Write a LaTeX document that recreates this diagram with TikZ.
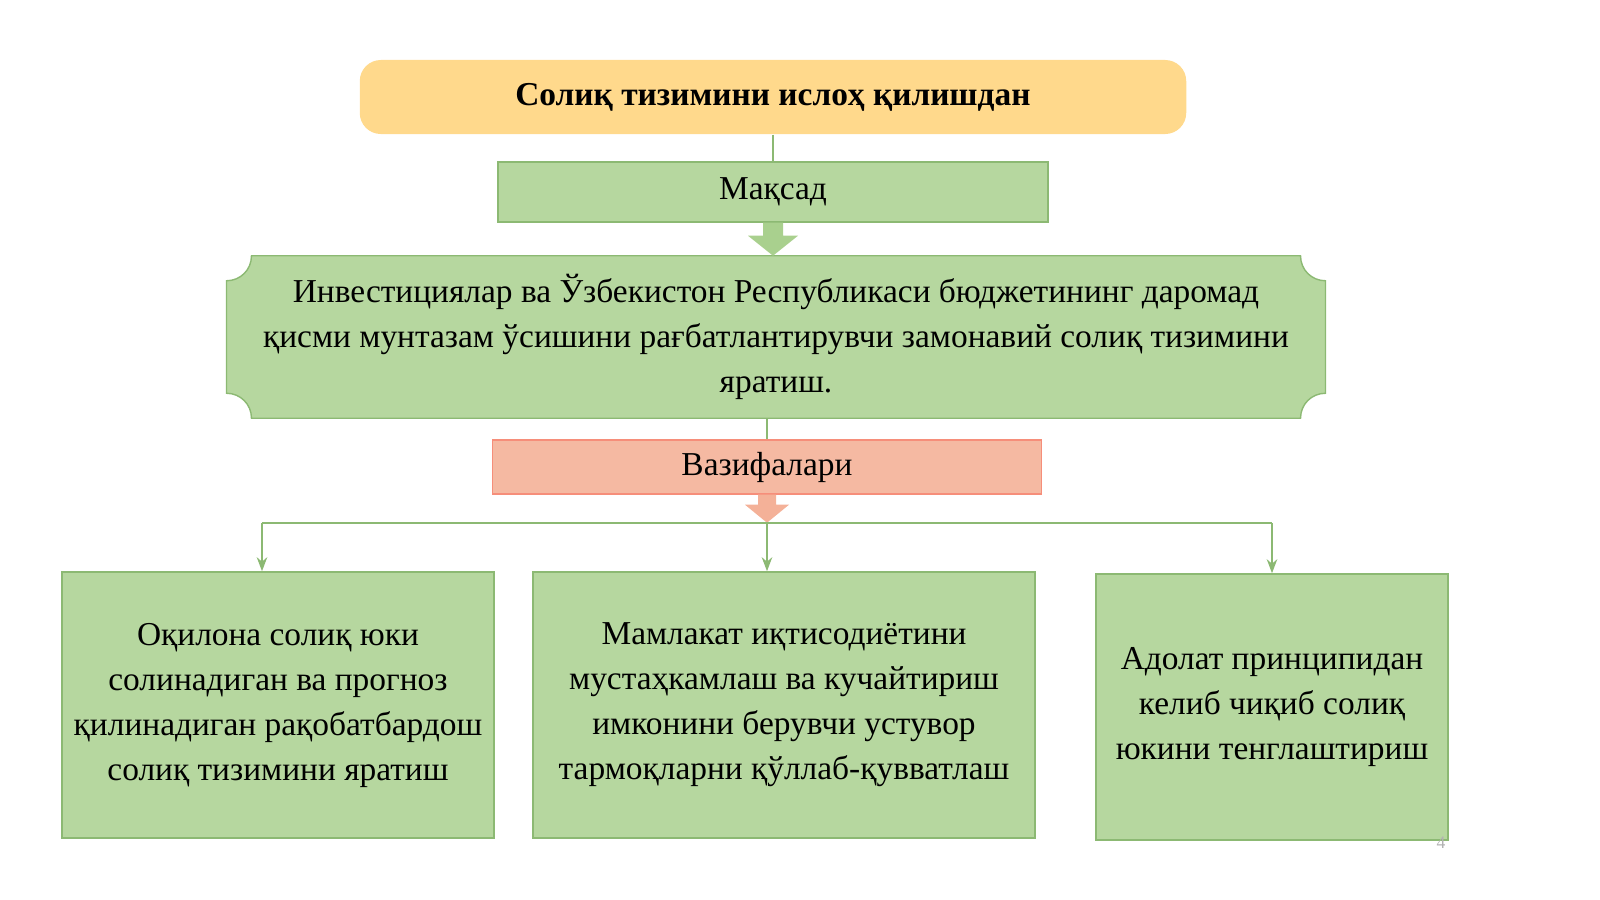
\documentclass[tikz,border=0pt]{standalone}
\usepackage{fontspec}
\setmainfont{Liberation Serif}
\usetikzlibrary{positioning, calc, arrows.meta}
\definecolor{boxgreen}{RGB}{169, 208, 142}
\definecolor{edgegreen}{RGB}{140, 185, 115}
\definecolor{salmon}{RGB}{244, 177, 152}
\definecolor{titleyellow}{RGB}{255, 210, 120}

\begin{document}
\begin{tikzpicture}[x=0.01cm, y=-0.01cm,
    box/.style={draw=edgegreen, fill=boxgreen!85, align=center, font=\fontsize{9.5}{12.8}\selectfont, inner sep=0pt},
    link/.style={draw=edgegreen, thin},
    tip/.style={link, -{Stealth[length=4pt, width=3pt]}},
    blockarrow/.style={fill=boxgreen, draw=none}
]
    \useasboundingbox (0,0) rectangle (1600,899);

    \node[draw=none, rounded corners=6pt, fill=titleyellow!85, minimum width=8.26cm, minimum height=0.74cm, font=\fontsize{9.5}{12.8}\selectfont\bfseries] (title) at (773,97) {Солиқ тизимини ислоҳ қилишдан};
    \node[box, minimum width=5.5cm, minimum height=0.6cm] (goal) at (773,192) {Мақсад};
    \node[minimum width=10.97cm, minimum height=1.61cm, inner sep=0pt] (aim) at (776,337) {};
    \node[box, minimum width=5.49cm, minimum height=0.54cm, draw=salmon!80!red, fill=salmon!90] (tasks) at (767,467) {Вазифалари};
    \node[box, minimum width=4.32cm, minimum height=2.66cm] (left) at (278,705) {Оқилона солиқ юки\\солинадиган ва прогноз\\қилинадиган рақобатбардош\\солиқ тизимини яратиш};
    \node[box, minimum width=5.02cm, minimum height=2.66cm] (mid) at (784,705) {Мамлакат иқтисодиётини\\мустаҳкамлаш ва кучайтириш\\имконини берувчи устувор\\тармоқларни қўллаб-қувватлаш};
    \node[box, minimum width=3.52cm, minimum height=2.66cm] (right) at (1272,707) {Адолат принципидан\\келиб чиқиб солиқ\\юкини тенглаштириш};

    % concave-corner frame of the aim box
    \path[draw=edgegreen, fill=boxgreen!85]
        ($(aim.north west)+(25,0)$) -- ($(aim.north east)+(-25,0)$)
        .. controls ($(aim.north east)+(-25,14)$) and ($(aim.north east)+(-14,25)$) .. ($(aim.north east)+(0,25)$)
        -- ($(aim.south east)+(0,-25)$)
        .. controls ($(aim.south east)+(-14,-25)$) and ($(aim.south east)+(-25,-14)$) .. ($(aim.south east)+(-25,0)$)
        -- ($(aim.south west)+(25,0)$)
        .. controls ($(aim.south west)+(25,-14)$) and ($(aim.south west)+(14,-25)$) .. ($(aim.south west)+(0,-25)$)
        -- ($(aim.north west)+(0,25)$)
        .. controls ($(aim.north west)+(14,25)$) and ($(aim.north west)+(25,14)$) .. cycle;
    \node[align=center, font=\fontsize{9.5}{12.8}\selectfont] at (aim) {Инвестициялар ва Ўзбекистон Республикаси бюджетининг даромад\\қисми мунтазам ўсишини рағбатлантирувчи замонавий солиқ тизимини\\яратиш.};

    \draw[link] (title.south) -- (goal.north);
    \fill[blockarrow] ($(goal.south)+(-10,0)$) -- ++(0,13) -- ++(-15,0) -- ($(goal.south)+(0,33)$) -- ($(goal.south)+(25,13)$) -- ++(-15,0) -- ++(0,-13) -- cycle;
    \draw[link] ($(aim.south)+(-9,0)$) -- (tasks.north);
    \fill[salmon] ($(tasks.south)+(-9,0)$) -- ++(0,10) -- ++(-13,0) -- ($(tasks.south)+(0,28)$) -- ($(tasks.south)+(22,10)$) -- ++(-13,0) -- ++(0,-10) -- cycle;

    \coordinate (bus) at (767,523);
    \coordinate (busl) at (262,523);
    \coordinate (busr) at (bus -| right.north);
    \draw[link] (busl) -- (busr);
    \draw[tip] (busl) -- (busl |- left.north);
    \draw[tip] (bus) -- (bus |- mid.north);
    \draw[tip] (busr) -- (right.north);

    \node[text=gray!60, font=\tiny] (page) at (1441,843) {4};
\end{tikzpicture}
\end{document}
